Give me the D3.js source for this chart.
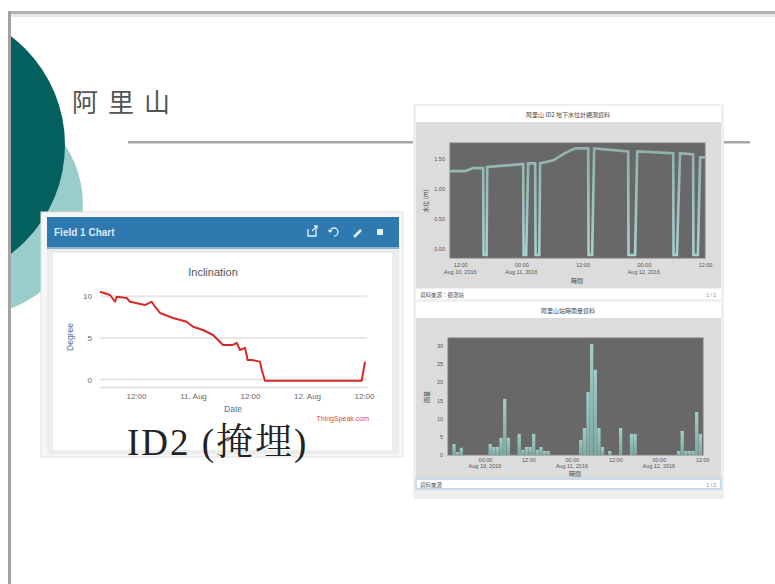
<!DOCTYPE html>
<html><head><meta charset="utf-8">
<script src="https://cdn.jsdelivr.net/npm/d3@7"></script>
<style>body{margin:0;background:#fff}svg{display:block}</style>
</head><body>
<svg id="c" width="775" height="584"></svg>
<script>
// ---------- DATA ----------
const slideTitle = "阿里山";
const caption = "ID2 (掩埋)";
const leftPanelTitle = "Field 1 Chart";
const leftChartTitle = "Inclination";
const leftYTitle = "Degree";
const leftXTitle = "Date";
const leftCredit = "ThingSpeak.com";
const inclTimes = ["2016-08-10 04:25","2016-08-10 06:32","2016-08-10 07:35","2016-08-10 07:56","2016-08-10 10:02","2016-08-10 10:44","2016-08-10 13:53","2016-08-10 15:18","2016-08-10 16:00","2016-08-10 17:03","2016-08-10 19:47","2016-08-10 22:40","2016-08-11 00:00","2016-08-11 02:06","2016-08-11 04:13","2016-08-11 06:19","2016-08-11 08:25","2016-08-11 09:12","2016-08-11 09:54","2016-08-11 10:57","2016-08-11 11:18","2016-08-11 11:28","2016-08-11 12:22","2016-08-11 14:06","2016-08-11 14:28","2016-08-11 15:10","2016-08-12 11:31","2016-08-12 12:13"];
const inclValues = [10.55,10.16,9.35,9.95,9.8,9.35,8.95,9.35,8.75,8.0,7.4,6.95,6.35,5.95,5.35,4.15,4.15,4.4,3.55,3.8,2.95,2.35,2.35,2.15,1.15,-0.15,-0.15,2.15];
const leftXDomain = ["2016-08-10 04:25","2016-08-12 12:38"];
const leftYDomain = [-0.9, 11];
const leftXTickTimes = ["2016-08-10 12:00","2016-08-11 00:00","2016-08-11 12:00","2016-08-12 00:00","2016-08-12 12:00"];
const leftXTickLabels = ["12:00","11. Aug","12:00","12. Aug","12:00"];
const leftYTicks = [0,5,10];

const topTitle = "阿里山 ID2 地下水位計觀測資料";
const topYTitle = "水位 (m)";
const topXTitle = "時間";
const topFooter = "資料來源：觀測站";
const levelTimes = ["2016-08-10 10:00","2016-08-10 13:00","2016-08-10 14:30","2016-08-10 16:30","2016-08-10 16:35","2016-08-10 17:10","2016-08-10 17:18","2016-08-10 21:48","2016-08-11 00:21","2016-08-11 00:26","2016-08-11 00:56","2016-08-11 01:20","2016-08-11 02:42","2016-08-11 02:47","2016-08-11 03:30","2016-08-11 03:40","2016-08-11 06:14","2016-08-11 08:35","2016-08-11 10:32","2016-08-11 13:06","2016-08-11 13:10","2016-08-11 13:52","2016-08-11 14:16","2016-08-11 20:56","2016-08-11 21:00","2016-08-11 22:18","2016-08-11 22:42","2016-08-12 05:46","2016-08-12 05:50","2016-08-12 06:30","2016-08-12 07:06","2016-08-12 09:40","2016-08-12 09:44","2016-08-12 10:36","2016-08-12 11:03","2016-08-12 12:00"];
const levelValues = [1.30,1.30,1.35,1.35,-0.10,-0.10,1.37,1.40,1.42,-0.10,-0.10,1.43,1.43,-0.10,-0.10,1.43,1.48,1.60,1.68,1.68,-0.10,-0.10,1.68,1.63,-0.10,-0.10,1.63,1.60,-0.10,-0.10,1.60,1.58,-0.10,-0.10,1.53,1.53];
const topXDomain = ["2016-08-10 10:00","2016-08-12 12:00"];
const topYDomain = [-0.15, 1.77];
const topYTicks = [0, 0.5, 1, 1.5];
const topXTickTimes = ["2016-08-10 12:00","2016-08-11 00:00","2016-08-11 12:00","2016-08-12 00:00","2016-08-12 12:00"];
const topXTickLine1 = ["12:00","00:00","12:00","00:00","12:00"];
const topXTickLine2 = ["Aug 10, 2016","Aug 11, 2016","","Aug 12, 2016",""];

const botTitle = "阿里山站時雨量資料";
const botYTitle = "雨量";
const botXTitle = "時間";
const botFooter = "資料來源";
const rainTimes = ["2016-08-09 15:00","2016-08-09 16:00","2016-08-09 17:00","2016-08-10 01:00","2016-08-10 02:00","2016-08-10 03:00","2016-08-10 04:00","2016-08-10 05:00","2016-08-10 06:00","2016-08-10 09:00","2016-08-10 10:00","2016-08-10 11:00","2016-08-10 12:00","2016-08-10 13:00","2016-08-10 14:00","2016-08-10 15:00","2016-08-10 16:00","2016-08-10 17:00","2016-08-11 02:00","2016-08-11 03:00","2016-08-11 04:00","2016-08-11 05:00","2016-08-11 06:00","2016-08-11 07:00","2016-08-11 08:00","2016-08-11 10:00","2016-08-11 13:00","2016-08-11 16:00","2016-08-11 17:00","2016-08-12 05:00","2016-08-12 06:00","2016-08-12 07:00","2016-08-12 08:00","2016-08-12 09:00","2016-08-12 10:00","2016-08-12 11:00"];
const rainValues = [3.0,0.8,2.0,3.0,2.2,2.2,4.7,15.4,4.7,5.8,1.4,2.2,2.2,5.8,1.4,2.2,1.1,1.1,4.1,7.4,17.3,30.5,23.4,7.4,2.2,1.1,7.4,5.8,5.8,1.1,6.6,1.1,1.1,1.1,11.8,5.8];
const botXDomain = ["2016-08-09 13:48","2016-08-12 12:12"];
const botYDomain = [0, 32.1];
const botYTicks = [0,5,10,15,20,25,30];
const botXTickTimes = ["2016-08-10 00:00","2016-08-10 12:00","2016-08-11 00:00","2016-08-11 12:00","2016-08-12 00:00","2016-08-12 12:00"];
const botXTickLine1 = ["00:00","12:00","00:00","12:00","00:00","12:00"];
const botXTickLine2 = ["Aug 10, 2016","","Aug 11, 2016","","Aug 12, 2016",""];

// ---------- DRAW ----------
const P = d3.timeParse("%Y-%m-%d %H:%M");
const svg = d3.select("#c");
const defs = svg.append("defs");
const SANS = "'Liberation Sans','DejaVu Sans',sans-serif";
const CJK = "'Noto Sans CJK TC','Noto Sans CJK SC',sans-serif";

// slide decoration
defs.append("clipPath").attr("id","slideClip").append("rect")
  .attr("x",11).attr("y",14).attr("width",764).attr("height",570);
const deco = svg.append("g").attr("clip-path","url(#slideClip)");
deco.append("circle").attr("cx",-27).attr("cy",205).attr("r",110).attr("fill","#99cdcc");
deco.append("circle").attr("cx",-71.5).attr("cy",145).attr("r",136.5).attr("fill","#03605e");
svg.append("rect").attr("x",8).attr("y",11).attr("width",767).attr("height",3).attr("fill","#b3b3b3");
svg.append("rect").attr("x",11).attr("y",14).attr("width",764).attr("height",3).attr("fill","#e8e8e8");
svg.append("rect").attr("x",8).attr("y",11).attr("width",3).attr("height",573).attr("fill","#a3a3a3");

svg.append("text").attr("x",72).attr("y",112).text(slideTitle)
  .attr("font-family",CJK).attr("font-size",26).attr("letter-spacing",10).attr("fill","#555");
svg.append("rect").attr("x",128).attr("y",141).attr("width",622).attr("height",2.5).attr("fill","#a6a6a6");

// ---------- left panel ----------
const L = svg.append("g");
L.append("rect").attr("x",41).attr("y",212).attr("width",362).attr("height",245)
  .attr("fill","#f6f6f6").attr("stroke","#e2e2e2");
L.append("rect").attr("x",47).attr("y",217).attr("width",352).attr("height",30).attr("fill","#2f79b1");
L.append("rect").attr("x",47).attr("y",247).attr("width",352).attr("height",2).attr("fill","#8cb5d5");
L.append("rect").attr("x",47).attr("y",249).attr("width",352).attr("height",205).attr("fill","#ececec");
L.append("rect").attr("x",53).attr("y",253).attr("width",339).attr("height",197).attr("fill","#fff");
L.append("text").attr("x",54).attr("y",235.5).text(leftPanelTitle)
  .attr("font-family",SANS).attr("font-size",10).attr("font-weight","bold").attr("fill","#dbe9f5");
// header icons
const ic = L.append("g").attr("fill","none").attr("stroke","#e4eef7").attr("stroke-width",1.3);
ic.append("path").attr("d","M308,229 v7 h8 v-7 M312,231 l5,-5 M314,226 h3 v3");
ic.append("path").attr("d","M330,232 a4,4 0 1,1 4,4 M330,232 l-1.5,-2 M330,232 l2,-1.5");
ic.append("path").attr("d","M354,237 l7,-7").attr("stroke-width",2.5);
L.append("rect").attr("x",377).attr("y",229).attr("width",6).attr("height",6).attr("fill","#e4eef7");

const xL = d3.scaleTime().domain(leftXDomain.map(P)).range([100,367]);
const yL = d3.scaleLinear().domain(leftYDomain).range([387,288]);
L.append("text").attr("x",213).attr("y",276).attr("text-anchor","middle").text(leftChartTitle)
  .attr("font-family",SANS).attr("font-size",11).attr("fill","#555");
L.append("g").selectAll("line").data(leftYTicks).join("line")
  .attr("x1",100).attr("x2",367).attr("y1",d=>yL(d)).attr("y2",d=>yL(d))
  .attr("stroke","#e6e6e6").attr("stroke-width",2);
const lya = L.append("g").attr("transform","translate(100,0)")
  .call(d3.axisLeft(yL).tickValues(leftYTicks).tickSize(0).tickPadding(8));
lya.select(".domain").remove();
lya.selectAll("text").attr("font-family",SANS).attr("font-size",8).attr("fill","#666");
const lxa = L.append("g").attr("transform","translate(0,387)")
  .call(d3.axisBottom(xL).tickValues(leftXTickTimes.map(P)).tickSize(0).tickPadding(6)
    .tickFormat((d,i)=>leftXTickLabels[i]));
lxa.select(".domain").attr("stroke","#dfe3ea").attr("stroke-width",2);
lxa.selectAll("text").attr("font-family",SANS).attr("font-size",8).attr("fill","#666");
L.append("text").attr("transform","translate(73,337) rotate(-90)").attr("text-anchor","middle")
  .text(leftYTitle).attr("font-family",SANS).attr("font-size",8.5).attr("fill","#4d759e");
L.append("text").attr("x",233).attr("y",412).attr("text-anchor","middle").text(leftXTitle)
  .attr("font-family",SANS).attr("font-size",8.5).attr("fill","#4d759e");
L.append("text").attr("x",369).attr("y",421).attr("text-anchor","end").text(leftCredit)
  .attr("font-family",SANS).attr("font-size",7).attr("fill","#d44c4c");
const inclData = inclTimes.map((t,i)=>({t:P(t),v:inclValues[i]}));
L.append("path").datum(inclData)
  .attr("d",d3.line().x(d=>xL(d.t)).y(d=>yL(d.v)))
  .attr("fill","none").attr("stroke","#d62a2a").attr("stroke-width",2).attr("stroke-linejoin","round");

svg.append("text").attr("x",127).attr("y",455).text(caption)
  .attr("font-family","'Liberation Serif','Noto Serif CJK TC','Noto Sans CJK TC',serif")
  .attr("font-size",37).attr("letter-spacing",2).attr("fill","#222");

// ---------- right panels ----------
const R = svg.append("g");
R.append("rect").attr("x",413).attr("y",104).attr("width",311).attr("height",395).attr("fill","#efefef");
function panel(y0, bodyH, title, footer, footerBlue){
  R.append("rect").attr("x",416).attr("y",y0).attr("width",305).attr("height",16).attr("fill","#fff");
  R.append("text").attr("x",568).attr("y",y0+10.5).attr("text-anchor","middle").text(title)
    .attr("font-family",CJK).attr("font-size",6).attr("fill","#444");
  R.append("rect").attr("x",416).attr("y",y0+16).attr("width",305).attr("height",bodyH).attr("fill","#dcdcdc");
  const fy = y0+16+bodyH;
  R.append("rect").attr("x",416).attr("y",fy+1).attr("width",305).attr("height",10)
    .attr("fill","#fff").attr("stroke",footerBlue?"#c7dcee":"none").attr("stroke-width",footerBlue?2:0);
  R.append("text").attr("x",420).attr("y",fy+8.5).text(footer)
    .attr("font-family",CJK).attr("font-size",5.5).attr("fill","#555");
  R.append("text").attr("x",716).attr("y",fy+8.5).attr("text-anchor","end").text("1 / 2")
    .attr("font-family",SANS).attr("font-size",5).attr("fill","#888");
}
panel(106, 166, topTitle, topFooter, false);
panel(302, 160, botTitle, botFooter, true);

function styleAxisText(g){ g.selectAll("text").attr("font-family",SANS).attr("font-size",5.5).attr("fill","#555"); }

// top chart
const xT = d3.scaleTime().domain(topXDomain.map(P)).range([450,705]);
const yT = d3.scaleLinear().domain(topYDomain).range([258,143]);
R.append("rect").attr("x",450).attr("y",143).attr("width",255).attr("height",115)
  .attr("fill","#686868").attr("stroke","#7c7c7c");
const tya = R.append("g").attr("transform","translate(450,0)")
  .call(d3.axisLeft(yT).tickValues(topYTicks).tickSize(0).tickPadding(5).tickFormat(d3.format(".2f")));
tya.select(".domain").remove(); styleAxisText(tya);
const txa = R.append("g").attr("transform","translate(0,258)")
  .call(d3.axisBottom(xT).tickValues(topXTickTimes.map(P)).tickSize(0).tickPadding(5).tickFormat((d,i)=>topXTickLine1[i]));
txa.select(".domain").remove(); styleAxisText(txa);
R.append("g").selectAll("text").data(topXTickTimes).join("text")
  .attr("x",d=>xT(P(d))).attr("y",274).attr("text-anchor","middle").text((d,i)=>topXTickLine2[i])
  .attr("font-family",SANS).attr("font-size",5.5).attr("fill","#555");
R.append("text").attr("x",577).attr("y",283).attr("text-anchor","middle").text(topXTitle)
  .attr("font-family",CJK).attr("font-size",6).attr("fill","#444");
R.append("text").attr("transform","translate(428,201) rotate(-90)").attr("text-anchor","middle").text(topYTitle)
  .attr("font-family",CJK).attr("font-size",6).attr("fill","#444");
const lg = defs.append("linearGradient").attr("id","lineGrad").attr("gradientUnits","userSpaceOnUse")
  .attr("x1",0).attr("y1",143).attr("x2",0).attr("y2",258);
lg.append("stop").attr("offset","0").attr("stop-color","#8fb1ad");
lg.append("stop").attr("offset","1").attr("stop-color","#a9d2cd");
const levelData = levelTimes.map((t,i)=>({t:P(t),v:levelValues[i]}));
R.append("path").datum(levelData)
  .attr("d",d3.line().x(d=>xT(d.t)).y(d=>yT(d.v)))
  .attr("fill","none").attr("stroke","url(#lineGrad)").attr("stroke-width",2.6);

// bottom chart
const xB = d3.scaleTime().domain(botXDomain.map(P)).range([448,703]);
const yB = d3.scaleLinear().domain(botYDomain).range([455,338]);
R.append("rect").attr("x",448).attr("y",338).attr("width",255).attr("height",117)
  .attr("fill","#686868").attr("stroke","#7c7c7c");
const bya = R.append("g").attr("transform","translate(448,0)")
  .call(d3.axisLeft(yB).tickValues(botYTicks).tickSize(0).tickPadding(5));
bya.select(".domain").remove(); styleAxisText(bya);
const bxa = R.append("g").attr("transform","translate(0,455)")
  .call(d3.axisBottom(xB).tickValues(botXTickTimes.map(P)).tickSize(0).tickPadding(3).tickFormat((d,i)=>botXTickLine1[i]));
bxa.select(".domain").remove(); styleAxisText(bxa);
R.append("g").selectAll("text").data(botXTickTimes).join("text")
  .attr("x",d=>xB(P(d))).attr("y",468).attr("text-anchor","middle").text((d,i)=>botXTickLine2[i])
  .attr("font-family",SANS).attr("font-size",5.5).attr("fill","#555");
R.append("text").attr("x",575).attr("y",476).attr("text-anchor","middle").text(botXTitle)
  .attr("font-family",CJK).attr("font-size",6).attr("fill","#444");
R.append("text").attr("transform","translate(429,397) rotate(-90)").attr("text-anchor","middle").text(botYTitle)
  .attr("font-family",CJK).attr("font-size",6).attr("fill","#444");
const bg = defs.append("linearGradient").attr("id","barGrad").attr("x1",0).attr("y1",0).attr("x2",0).attr("y2",1);
bg.append("stop").attr("offset","0").attr("stop-color","#a7d6d0");
bg.append("stop").attr("offset","1").attr("stop-color","#7eaea9");
const rainData = rainTimes.map((t,i)=>({t:P(t),v:rainValues[i]}));
R.append("g").selectAll("rect").data(rainData).join("rect")
  .attr("x",d=>xB(d.t)).attr("width",d=>xB(d3.timeHour.offset(d.t,1))-xB(d.t)-0.3)
  .attr("y",d=>yB(d.v)).attr("height",d=>yB(0)-yB(d.v))
  .attr("fill","url(#barGrad)").attr("opacity",0.92);
</script>
</body></html>
